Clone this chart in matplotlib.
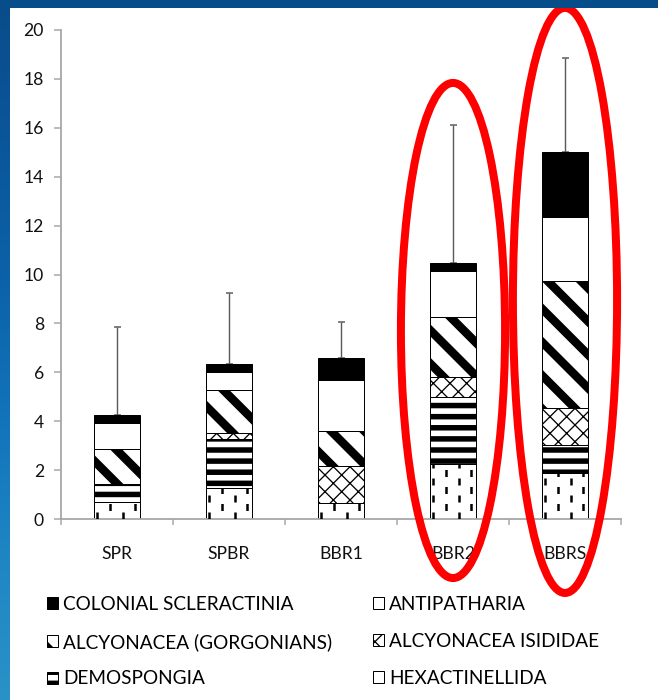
"""Stacked abundance bars per site, with the two deep sites ringed."""

import matplotlib as mpl
import numpy as np
from matplotlib import pyplot as plt
from matplotlib.colors import LinearSegmentedColormap
from matplotlib.patches import Ellipse, Patch, Rectangle

mpl.use("Agg")

# Mean abundance per taxon at each site (stacked bottom to top)
sites = ["SPR", "SPBR", "BBR1", "BBR2", "BBRS"]
hexactinellida = [0.68, 1.25, 0.65, 2.25, 1.89]
demospongia = [0.77, 2.03, 0.00, 2.75, 1.14]
isididae = [0.00, 0.22, 1.50, 0.81, 1.50]
gorgonians = [1.40, 1.78, 1.45, 2.46, 5.22]
antipatharia = [1.06, 0.75, 2.08, 1.89, 2.62]
scleractinia = [0.33, 0.31, 0.92, 0.32, 2.63]
upper_error = [3.63, 2.91, 1.44, 5.65, 3.86]
highlighted = ["BBR2", "BBRS"]

DPI = 200


def px(value):
    """Convert a pixel size to points for this figure's dpi."""
    return value * 72 / DPI


plt.rcParams["font.family"] = ["Lato", "DejaVu Sans"]
plt.rcParams["lines.scale_dashes"] = False
plt.rcParams["hatch.color"] = "black"

fig = plt.figure(figsize=(658 / DPI, 700 / DPI), dpi=DPI, facecolor="white")

# Slide frame: gradient strip on the left, dark band across the top
strip = fig.add_axes([0, 0, 10 / 658, 1])
frame_cmap = LinearSegmentedColormap.from_list(
    "frame", ["#2a92c6", "#1f86c4", "#1274bb", "#0c62a8", "#0a569a", "#0a4c8a"]
)
strip.imshow(np.linspace(0, 1, 256)[:, None], aspect="auto", cmap=frame_cmap,
             origin="lower", extent=[0, 1, 0, 1])
strip.axis("off")
fig.add_artist(Rectangle((0, 1 - 8 / 700), 1, 8 / 700, transform=fig.transFigure,
                         facecolor="#074d8a", edgecolor="none", zorder=10))

ax = fig.add_axes([61 / 658, 181 / 700, 560 / 658, 489 / 700])

x = np.arange(len(sites))
width = 0.41
# name, values, face colour, hatch, hatch line width
layers = [
    ("HEXACTINELLIDA", hexactinellida, "white", None, 0.3),
    ("DEMOSPONGIA", demospongia, "white", "---", px(5.5)),
    ("ALCYONACEA ISIDIDAE", isididae, "white", "xxxx", px(1.3)),
    ("ALCYONACEA (GORGONIANS)", gorgonians, "white", "\\\\", px(8.5)),
    ("ANTIPATHARIA", antipatharia, "white", None, 0.3),
    ("COLONIAL SCLERACTINIA", scleractinia, "black", None, 0.3),
]
hatch_widths = {name: lw for name, _, _, _, lw in layers}

bottom = np.zeros(len(sites))
handles = {}
for name, values, face, hatch, hatch_lw in layers:
    with plt.rc_context({"hatch.linewidth": hatch_lw}):
        bars = ax.bar(x, values, width=width, bottom=bottom, color=face,
                      edgecolor="black", linewidth=px(1), hatch=hatch, zorder=2)
    for bar in bars:
        if hasattr(bar, "set_hatch_linewidth"):
            bar.set_hatch_linewidth(hatch_lw)
    handles[name] = Patch(facecolor=face, edgecolor="black", linewidth=px(1),
                          hatch=hatch)
    bottom += np.asarray(values)

# Hexactinellida fill: staggered columns of short vertical dashes
columns = np.array([0.06, 0.34, 0.62, 0.90]) - 0.5
for i, height in zip(x, hexactinellida):
    for k, c in enumerate(columns):
        ax.vlines(i + c * width, 0, height, colors="black", linewidth=px(2.5),
                  linestyles=[(px(8.5) if k % 2 else 0, (px(7), px(10)))],
                  zorder=3)

# Upper error bars on the stacked totals
ax.errorbar(x, bottom, yerr=[np.zeros(len(sites)), upper_error], fmt="none",
            ecolor="#595959", elinewidth=px(1.4), capsize=px(3.5),
            capthick=px(1.5), zorder=1.5)

# Red rings around the highlighted sites
rings = {"BBR2": (7.71, 20.25), "BBRS": (8.94, 23.93)}
for site in highlighted:
    cy, h = rings[site]
    ax.add_patch(Ellipse((sites.index(site), cy), 0.93, h, fill=False,
                         edgecolor="#ff0000", linewidth=px(8), clip_on=False,
                         zorder=6))

ax.set_xlim(-0.5, len(sites) - 0.5)
ax.set_ylim(0, 20)
ax.set_yticks(range(0, 21, 2))
ax.set_xticks(np.arange(-0.5, len(sites), 1))
ax.set_xticklabels([])
ax.set_xticks(x, minor=True)
ax.set_xticklabels(sites, minor=True)

for side in ("top", "right"):
    ax.spines[side].set_visible(False)
for side in ("left", "bottom"):
    ax.spines[side].set_color("#a6a6a6")
    ax.spines[side].set_linewidth(px(1.8))

ax.tick_params(axis="x", which="major", length=px(6), width=px(1.5),
               color="#a6a6a6")
ax.tick_params(axis="x", which="minor", length=0, pad=px(27),
               labelsize=px(17.5), labelcolor="#111111")
ax.tick_params(axis="y", length=px(7), width=px(1.5), color="#a6a6a6",
               pad=px(10), labelsize=px(17.5), labelcolor="#111111")

order = ["COLONIAL SCLERACTINIA", "ALCYONACEA (GORGONIANS)", "DEMOSPONGIA",
         "ANTIPATHARIA", "ALCYONACEA ISIDIDAE", "HEXACTINELLIDA"]
legend = fig.legend([handles[n] for n in order], order, ncol=2, frameon=False,
                    loc="upper left", bbox_to_anchor=(47 / 658, 1 - 596 / 700),
                    fontsize=px(19), handlelength=0.6, handleheight=0.6,
                    handletextpad=0.25, columnspacing=2.13, labelspacing=1.04,
                    borderpad=0, borderaxespad=0)
for patch, name in zip(legend.get_patches(), order):
    if hasattr(patch, "set_hatch_linewidth"):
        patch.set_hatch_linewidth(hatch_widths[name])

fig.savefig("out.png", dpi=DPI, facecolor="white")
plt.close(fig)
